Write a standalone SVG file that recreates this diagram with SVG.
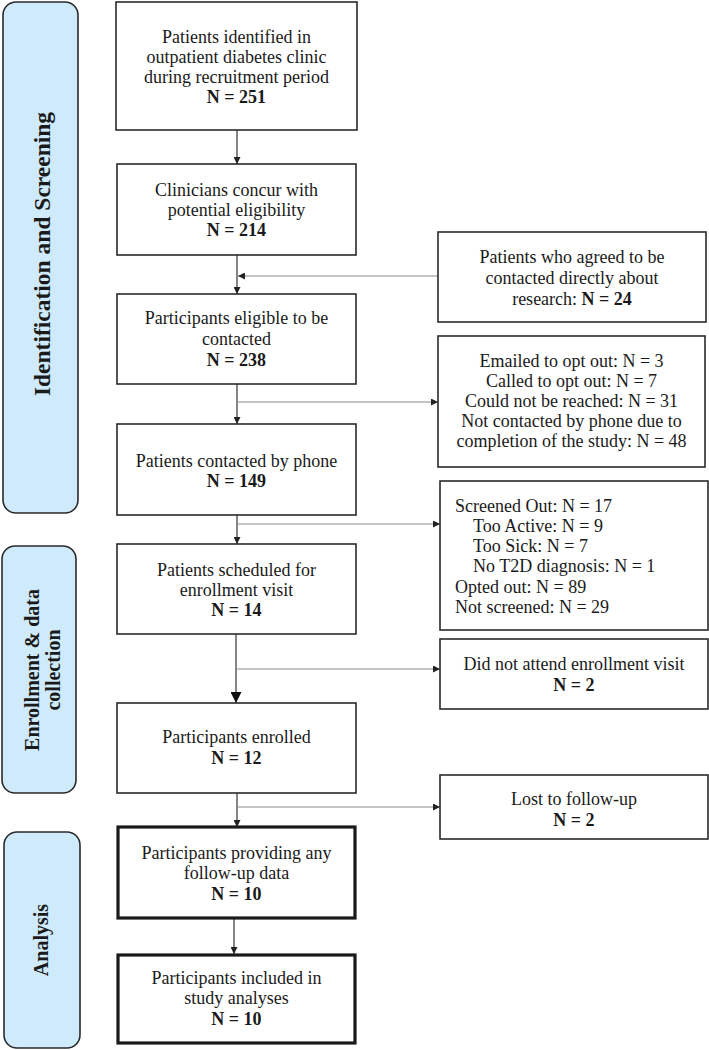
<svg xmlns="http://www.w3.org/2000/svg" width="709" height="1050" viewBox="0 0 709 1050">
<style>
.bg{fill:#ffffff}
.bar{fill:#cfeafb;stroke:#2a2a2a;stroke-width:1.6}
.box{fill:#ffffff;stroke:#2a2a2a;stroke-width:1.6}
.thick{fill:#ffffff;stroke:#1a1a1a;stroke-width:3.2}
.t{font-family:"Liberation Serif","Times New Roman",serif;font-size:18px;fill:#1a1a1a;text-anchor:middle}
.l{text-anchor:start}
.b{font-weight:bold}
.lab{font-family:"Liberation Serif","Times New Roman",serif;font-weight:bold;fill:#1a1a1a;text-anchor:middle}
.v{stroke:#333;stroke-width:1.2;fill:none}
.h{stroke:#8a8a8a;stroke-width:1.2;fill:none}
</style>
<defs>
<marker id="ah" viewBox="0 0 8 8" refX="8" refY="4" markerWidth="7" markerHeight="7" markerUnits="userSpaceOnUse" orient="auto"><path d="M0,0 L8,4 L0,8 z" fill="#222"/></marker>
<marker id="ahL" viewBox="0 0 8 8" refX="8" refY="4" markerWidth="11" markerHeight="11" markerUnits="userSpaceOnUse" orient="auto"><path d="M0,0 L8,4 L0,8 z" fill="#111"/></marker>
</defs>
<rect class="bg" x="0" y="0" width="709" height="1050"/>

<g id="phase-identification">
<rect class="bar" x="3" y="2" width="75" height="511" rx="13"/>
<text class="lab" font-size="23.5" transform="translate(50,254) rotate(-90)">Identification and Screening</text>
</g>
<g id="phase-enrollment">
<rect class="bar" x="2" y="546" width="74" height="247" rx="13"/>
<text class="lab" font-size="20" transform="translate(39,670) rotate(-90)">Enrollment &amp; data</text>
<text class="lab" font-size="20" transform="translate(60,670) rotate(-90)">collection</text>
</g>
<g id="phase-analysis">
<rect class="bar" x="4" y="832" width="76" height="216" rx="13"/>
<text class="lab" font-size="20" transform="translate(48,940) rotate(-90)">Analysis</text>
</g>

<g id="connectors">
<line class="v" x1="237" y1="130" x2="237" y2="164" marker-end="url(#ah)"/>
<line class="v" x1="237" y1="255" x2="237" y2="294" marker-end="url(#ah)"/>
<line class="h" x1="438" y1="276" x2="238" y2="276" marker-end="url(#ah)"/>
<line class="v" x1="237" y1="384" x2="237" y2="424" marker-end="url(#ah)"/>
<line class="h" x1="237" y1="402" x2="438" y2="402" marker-end="url(#ah)"/>
<line class="v" x1="237" y1="515" x2="237" y2="544" marker-end="url(#ah)"/>
<line class="h" x1="237" y1="524" x2="440" y2="524" marker-end="url(#ah)"/>
<line class="v" x1="236" y1="634" x2="236" y2="703" marker-end="url(#ahL)"/>
<line class="h" x1="236" y1="669" x2="440" y2="669" marker-end="url(#ah)"/>
<line class="v" x1="237" y1="793" x2="237" y2="827" marker-end="url(#ah)"/>
<line class="h" x1="237" y1="807" x2="440" y2="807" marker-end="url(#ah)"/>
<line class="v" x1="234" y1="918" x2="234" y2="954" marker-end="url(#ah)"/>
</g>

<g id="n1">
<rect class="box" x="116" y="2" width="241" height="128"/>
<text class="t" x="236.5" y="43">Patients identified in</text>
<text class="t" x="236.5" y="63">outpatient diabetes clinic</text>
<text class="t" x="236.5" y="83">during recruitment period</text>
<text class="t b" x="236.5" y="103">N = 251</text>
</g>
<g id="n2">
<rect class="box" x="117" y="164" width="239" height="91"/>
<text class="t" x="236.5" y="196">Clinicians concur with</text>
<text class="t" x="236.5" y="216">potential eligibility</text>
<text class="t b" x="236.5" y="236">N = 214</text>
</g>
<g id="n3">
<rect class="box" x="117" y="294" width="239" height="90"/>
<text class="t" x="236.5" y="324">Participants eligible to be</text>
<text class="t" x="236.5" y="345">contacted</text>
<text class="t b" x="236.5" y="366">N = 238</text>
</g>
<g id="n4">
<rect class="box" x="117" y="424" width="239" height="91"/>
<text class="t" x="236.5" y="467">Patients contacted by phone</text>
<text class="t b" x="236.5" y="487">N = 149</text>
</g>
<g id="n5">
<rect class="box" x="117" y="544" width="239" height="90"/>
<text class="t" x="236.5" y="576">Patients scheduled for</text>
<text class="t" x="236.5" y="596">enrollment visit</text>
<text class="t b" x="236.5" y="616">N = 14</text>
</g>
<g id="n6">
<rect class="box" x="117" y="703" width="239" height="90"/>
<text class="t" x="236.5" y="743">Participants enrolled</text>
<text class="t b" x="236.5" y="764">N = 12</text>
</g>
<g id="n7">
<rect class="thick" x="118" y="827" width="237" height="91"/>
<text class="t" x="236.5" y="859">Participants providing any</text>
<text class="t" x="236.5" y="879">follow-up data</text>
<text class="t b" x="236.5" y="900">N = 10</text>
</g>
<g id="n8">
<rect class="thick" x="118" y="955" width="237" height="88"/>
<text class="t" x="236.5" y="984">Participants included in</text>
<text class="t" x="236.5" y="1004">study analyses</text>
<text class="t b" x="236.5" y="1025">N = 10</text>
</g>

<g id="r1">
<rect class="box" x="438" y="232" width="268" height="90"/>
<text class="t" x="572" y="263">Patients who agreed to be</text>
<text class="t" x="572" y="284">contacted directly about</text>
<text class="t" x="572" y="305">research: <tspan class="b">N = 24</tspan></text>
</g>
<g id="r2">
<rect class="box" x="438" y="336" width="267" height="131"/>
<text class="t" x="571.5" y="367">Emailed to opt out: N = 3</text>
<text class="t" x="571.5" y="387">Called to opt out: N = 7</text>
<text class="t" x="571.5" y="407">Could not be reached: N = 31</text>
<text class="t" x="571.5" y="427">Not contacted by phone due to</text>
<text class="t" x="571.5" y="447">completion of the study: N = 48</text>
</g>
<g id="r3">
<rect class="box" x="440" y="481" width="268" height="149"/>
<text class="t l" x="455" y="512">Screened Out: N = 17</text>
<text class="t l" x="473" y="532">Too Active: N = 9</text>
<text class="t l" x="473" y="552">Too Sick: N = 7</text>
<text class="t l" x="473" y="572">No T2D diagnosis: N = 1</text>
<text class="t l" x="455" y="593">Opted out: N = 89</text>
<text class="t l" x="455" y="613">Not screened: N = 29</text>
</g>
<g id="r4">
<rect class="box" x="440" y="639" width="268" height="70"/>
<text class="t" x="574" y="670">Did not attend enrollment visit</text>
<text class="t b" x="574" y="691">N = 2</text>
</g>
<g id="r5">
<rect class="box" x="440" y="775" width="268" height="64"/>
<text class="t" x="574" y="805">Lost to follow-up</text>
<text class="t b" x="574" y="826">N = 2</text>
</g>
</svg>
